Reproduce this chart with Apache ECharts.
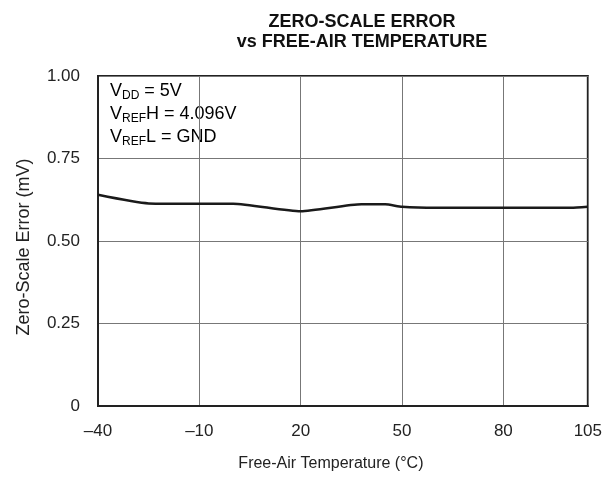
<!DOCTYPE html>
<html>
<head>
<meta charset="utf-8">
<script src="https://cdn.jsdelivr.net/npm/echarts@6/dist/echarts.min.js"></script>
<style>
  html, body { margin: 0; padding: 0; background: #fff; }
  #chart { width: 605px; height: 477px; }
</style>
</head>
<body>
<div id="chart"></div>
<script>
// temperature (°C) and zero-scale error (mV)
const temps = [-40, -25, -10, 0, 20, 38, 45, 50, 60, 80, 100, 105]
const errors = [0.640, 0.614, 0.613, 0.613, 0.590, 0.611, 0.611, 0.604, 0.601, 0.601, 0.601, 0.604]
const xTicks = [-40, -10, 20, 50, 80, 105]
const yTicks = [0, 0.25, 0.5, 0.75, 1]

const font = '"Liberation Sans", Arial, Helvetica, sans-serif'
const chart = echarts.init(document.getElementById('chart'))

chart.setOption({
  animation: false,
  title: {
    text: 'ZERO-SCALE ERROR\nvs FREE-AIR TEMPERATURE',
    left: 357,
    textAlign: 'center',
    top: 7,
    textStyle: {
      fontFamily: font,
      fontWeight: 'bold',
      fontSize: 18,
      lineHeight: 20,
      color: '#111'
    }
  },
  grid: {
    left: 98,
    right: 17,
    top: 76,
    bottom: 70,
    show: true,
    borderColor: '#222',
    borderWidth: 2
  },
  graphic: [{
    type: 'text',
    left: 110,
    top: 81,
    style: {
      text: '{m|V}{s|DD}{m| = 5V}\n{m|V}{s|REF}{m|H = 4.096V}\n{m|V}{s|REF}{m|L = GND}',
      fontFamily: font,
      rich: {
        m: { fontSize: 18, fontFamily: font, color: '#111', lineHeight: 23 },
        s: { fontSize: 12, fontFamily: font, color: '#111', padding: [9, 0, 0, 0], lineHeight: 23 }
      }
    }
  }],
  xAxis: {
    type: 'value',
    min: -40,
    max: 105,
    interval: 30,
    name: 'Free-Air Temperature (°C)',
    nameLocation: 'middle',
    nameGap: 50,
    nameTextStyle: { fontFamily: font, fontSize: 16, color: '#222', padding: [0, 24, 0, 0] },
    axisLine: { show: true, onZero: false, lineStyle: { color: '#222', width: 2 } },
    axisTick: { show: false, customValues: xTicks },
    axisLabel: {
      customValues: xTicks,
      margin: 17,
      fontFamily: font,
      fontSize: 17,
      color: '#222',
      formatter: v => String(v).replace('-', '\u2013')
    },
    splitLine: { show: true, lineStyle: { color: '#777', width: 1 } }
  },
  yAxis: {
    type: 'value',
    min: 0,
    max: 1,
    interval: 0.25,
    name: 'Zero-Scale Error (mV)',
    nameLocation: 'middle',
    nameGap: 65,
    nameTextStyle: { fontFamily: font, fontSize: 18, color: '#222', padding: [0, 12, 0, 0] },
    axisLine: { show: true, onZero: false, lineStyle: { color: '#222', width: 2 } },
    axisTick: { show: false, customValues: yTicks },
    axisLabel: {
      customValues: yTicks,
      margin: 18,
      fontFamily: font,
      fontSize: 17,
      color: '#222',
      formatter: v => (v === 0 ? '0' : v.toFixed(2))
    },
    splitLine: { show: true, lineStyle: { color: '#777', width: 1 } }
  },
  series: [{
    type: 'line',
    data: temps.map((t, i) => [t, errors[i]]),
    smooth: 0.2,
    showSymbol: false,
    lineStyle: { color: '#1a1a1a', width: 2.5 }
  }]
})
</script>
</body>
</html>
